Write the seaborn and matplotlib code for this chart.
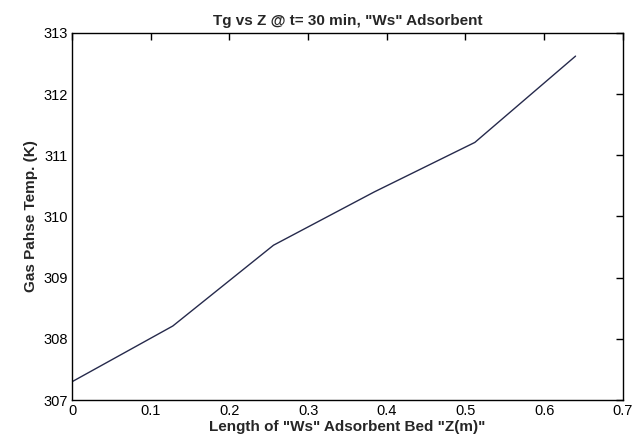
import matplotlib
matplotlib.use("Agg")
import matplotlib.pyplot as plt
import seaborn as sns
import pandas as pd

# ---------- Data ----------
bed_length = [0.0, 0.128, 0.256, 0.384, 0.512, 0.640]
gas_temp = [307.30, 308.21, 309.53, 310.40, 311.21, 312.62]

x_ticks = [0, 0.1, 0.2, 0.3, 0.4, 0.5, 0.6, 0.7]
x_tick_labels = ["0", "0.1", "0.2", "0.3", "0.4", "0.5", "0.6", "0.7"]
y_ticks = [307, 308, 309, 310, 311, 312, 313]

df = pd.DataFrame({"Z": bed_length, "Tg": gas_temp})

# ---------- Style ----------
sns.set_style("white")
plt.rcParams["font.family"] = ["Liberation Sans", "DejaVu Sans"]

fig = plt.figure(figsize=(6.44, 4.44), dpi=100)
ax = fig.add_axes([0.112, 0.099, 0.855, 0.827])

sns.lineplot(data=df, x="Z", y="Tg", ax=ax, color="#262a4c", linewidth=1.0)

ax.set_xlim(0, 0.7)
ax.set_ylim(307, 313)
ax.set_xticks(x_ticks)
ax.set_xticklabels(x_tick_labels)
ax.set_yticks(y_ticks)

# MATLAB-like box with inward ticks on all sides
for side in ["top", "bottom", "left", "right"]:
    ax.spines[side].set_visible(True)
    ax.spines[side].set_color("black")
    ax.spines[side].set_linewidth(1.0)
ax.tick_params(direction="in", length=5, width=1, top=True, right=True,
               labelsize=10.5, colors="black", pad=3)

ax.set_title('Tg vs Z @ t= 30 min, "Ws" Adsorbent', fontsize=11,
             fontweight="bold", pad=6)
ax.set_xlabel('Length of "Ws" Adsorbent Bed "Z(m)"', fontsize=11,
              fontweight="bold", labelpad=1)
ax.set_ylabel("Gas Pahse Temp. (K)", fontsize=11, fontweight="bold",
              labelpad=4)

fig.savefig("out.png", dpi=100)
